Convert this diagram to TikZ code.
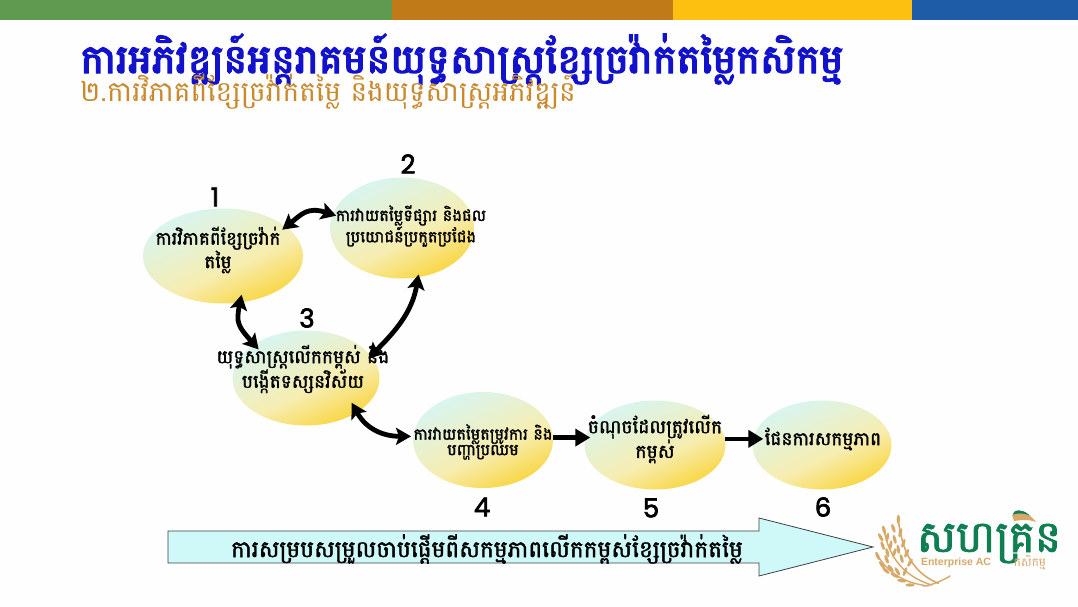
\documentclass[tikz,border=0pt]{standalone}
\usepackage{fontspec}
\usetikzlibrary{shapes.geometric,arrows.meta}
\newfontfamily\khm[Script=Khmer]{Battambang}
\newfontfamily\khmb[Script=Khmer,FakeBold=1.6]{Battambang}
\newfontfamily\khmh[Script=Khmer,FakeBold=3.4]{Battambang}
\newfontfamily\numf[FakeBold=2.6]{Poppins}
\newfontfamily\latf{Liberation Sans}
\definecolor{barA}{HTML}{5F9A50}
\definecolor{barB}{HTML}{C07A18}
\definecolor{barC}{HTML}{FDC010}
\definecolor{barD}{HTML}{1F5CA8}
\definecolor{ttl}{HTML}{1212CC}
\definecolor{sub}{HTML}{C98A2E}
\definecolor{ecy}{HTML}{D8F5F0}
\definecolor{emd}{HTML}{F7EDB0}
\definecolor{egd}{HTML}{F9D22E}
\definecolor{arrowfill}{HTML}{CFF8F8}
\definecolor{logog}{HTML}{0F7F52}
\definecolor{logot}{HTML}{D7A968}
\pgfdeclareverticalshading{eggshade}{100bp}{color(0bp)=(egd); color(22bp)=(egd); color(44bp)=(emd); color(74bp)=(ecy); color(100bp)=(ecy)}
\tikzset{
  x=1pt,y=-1pt,
  egg/.style={ellipse,inner sep=0pt,draw=none,shading=eggshade,shading angle=25},
  lbl/.style={text=black,align=center,inner sep=0pt},
  num/.style={font=\numf\fontsize{26}{26}\selectfont,text=black,inner sep=0pt},
  dbl/.style={line width=4.8pt,draw=black,{Stealth[length=15pt,width=17pt,inset=3pt]}-{Stealth[length=15pt,width=17pt,inset=3pt]}},
  sgl/.style={line width=4.6pt,draw=black,-{Stealth[length=15pt,width=17pt,inset=0pt]}},
  grain/.style={fill=logot,draw=none}
}
\begin{document}
\begin{tikzpicture}
\useasboundingbox (0,0) rectangle (1078,607);
\fill[white!99!gray] (0,0) rectangle (1078,607);
\fill[barA] (0,0) rectangle (392,20);
\fill[barB] (392,0) rectangle (673,20);
\fill[barC] (673,0) rectangle (912,20);
\fill[barD] (912,0) rectangle (1078,20);
\node[anchor=center,inner sep=0pt,text=ttl,font=\khmh\fontsize{40}{42}\selectfont] (title) at (462,59) {ការអភិវឌ្ឍន៍អន្តរាគមន៍យុទ្ធសាស្រ្តខ្សែច្រវ៉ាក់តម្លៃកសិកម្ម};
\node[anchor=center,inner sep=0pt,text=sub,font=\khm\fontsize{28}{30}\selectfont] (subtitle) at (328,92) {២.ការវិភាគពីខ្សែច្រវ៉ាក់តម្លៃ និងយុទ្ធសាស្រ្តអភិវឌ្ឍន៍};
\node[egg,minimum width=160pt,minimum height=95pt] (n1) at (223,256) {};
\node[egg,minimum width=144pt,minimum height=101pt] (n2) at (402,228) {};
\node[egg,minimum width=147pt,minimum height=95pt] (n3) at (306,378) {};
\node[egg,minimum width=140pt,minimum height=96pt] (n4) at (483,440) {};
\node[egg,minimum width=141pt,minimum height=89pt] (n5) at (655,445) {};
\node[egg,minimum width=139pt,minimum height=89pt] (n6) at (822,445) {};
\draw[dbl,shorten <=-5pt,shorten >=-4pt] (n1.25) .. controls +(15,-12) and +(-25,-8) .. (n2.169);
\draw[dbl,shorten <=-8pt,shorten >=-7pt] (n1.-70) .. controls +(-4,20) and +(-16,-18) .. (n3.147);
\draw[dbl,shorten <=-3pt,shorten >=-4pt] (n2.-72) .. controls +(-6,35) and +(24,-24) .. (n3.19);
\draw[dbl,shorten <=-11pt,shorten >=2pt] (n3.-34) .. controls +(10,18) and +(-28,0) .. (n4.177);
\draw[sgl,shorten >=-6pt] (n4.2) -- (n4.2 -| n5.west);
\draw[sgl,shorten >=-11pt] (n5.5) -- (n5.5 -| n6.west);
\node[lbl,font=\khmb\fontsize{18.2}{20}\selectfont] (t1) at (218,250) {ការវិភាគពីខ្សែច្រវ៉ាក់\\តម្លៃ};
\node[lbl,font=\khmb\fontsize{16.2}{16.5}\selectfont] (t2) at (411,226) {ការវាយតម្លៃទីផ្សារ និងផល\\ប្រយោជន៍ប្រកួតប្រជែង};
\node[lbl,font=\khmb\fontsize{18.6}{19.5}\selectfont] (t3) at (303,369) {យុទ្ធសាស្រ្តលើកកម្ពស់ និង\\បង្កើតទស្សនវិស័យ};
\node[lbl,font=\khmb\fontsize{16}{15.5}\selectfont] (t4) at (483,442) {ការវាយតម្លៃតម្រូវការ និង\\បញ្ហាប្រឈម};
\node[lbl,font=\khmb\fontsize{18.8}{18}\selectfont] (t5) at (655,439) {ចំណុចដែលត្រូវលើក\\កម្ពស់};
\node[lbl,font=\khmb\fontsize{18.6}{20}\selectfont] (t6) at (823,439) {ផែនការសកម្មភាព};
\node[num] (d1) at (215,197) {1};
\node[num] (d2) at (408,164) {2};
\node[num] (d3) at (307,318) {3};
\node[num] (d4) at (482,507) {4};
\node[num] (d5) at (651,508) {5};
\node[num] (d6) at (823,507) {6};
\draw[draw=black!75,line width=.8pt,fill=arrowfill] (168,531) -- (759,531) -- (759,518) -- (873,547) -- (759,576) -- (759,563) -- (168,563) -- cycle;
\node[lbl,font=\khmb\fontsize{23.2}{25}\selectfont] (bigt) at (487,549) {ការសម្របសម្រួលចាប់ផ្តើមពីសកម្មភាពលើកកម្ពស់ខ្សែច្រវ៉ាក់តម្លៃ};
\begin{scope}[shift={(860,500)},xscale=1/3,yscale=1/3]
  \draw[logot,line width=1.6pt,line cap=round] (115,60) .. controls (125,140) and (150,215) .. (235,250);
  \draw[logot,line width=1.4pt,line cap=round] (72,90) .. controls (85,160) and (120,225) .. (215,255);
  \draw[logot,line width=1.4pt,line cap=round] (55,170) .. controls (90,225) and (140,250) .. (205,258);
  \draw[logot,line width=1.4pt,line cap=round] (190,258) .. controls (220,255) and (250,240) .. (270,228);
  \foreach \px/\py/\pa in {115/58/88,100/85/110,121/98/75,104/118/105,130/130/70,115/148/100,140/160/65,125/176/105,150/188/60,
    72/90/105,62/112/120,82/112/80,68/137/110,92/135/80,82/158/105,103/158/70,
    53/168/115,80/178/110,66/195/125,92/205/130,78/212/140,112/214/120,104/226/150,125/242/170,150/255/180,
    135/215/70}
    {\fill[grain,shift={(\px,\py)},rotate=\pa] (0,0) ellipse (14 and 5);}
\end{scope}
\node[inner sep=0pt,text=logog,font=\khmb\fontsize{44}{46}\selectfont,anchor=center] (lg) at (989,537) {សហគ្រិន};
\fill[logot] (1012,515) .. controls (1020,512) and (1030,513) .. (1036,522) .. controls (1028,519) and (1020,520) .. (1014,521) -- cycle;
\node[inner sep=0pt,text=logot,font=\latf\bfseries\fontsize{10.5}{12}\selectfont] (lg2) at (956,563) {Enterprise AC};
\node[inner sep=0pt,text=logot,font=\khm\fontsize{12}{14}\selectfont] (lg3) at (1030,563) {កសិកម្ម};
\end{tikzpicture}
\end{document}
